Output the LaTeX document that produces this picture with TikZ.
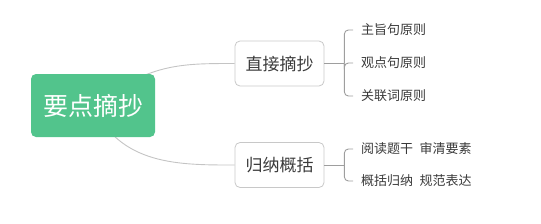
\documentclass[tikz,border=0pt]{standalone}
\usepackage{fontspec}
\setmainfont{Noto Sans CJK SC}
\usetikzlibrary{backgrounds}

\definecolor{rootgreen}{HTML}{52C48C}
\definecolor{linkgray}{HTML}{C4C4C4}
\definecolor{boxgray}{HTML}{C8C8C8}
\definecolor{bracketgray}{HTML}{9E9E9E}
\definecolor{textgray}{HTML}{3A3A3A}

\begin{document}
\begin{tikzpicture}[
    x=1pt, % one unit is one pixel of the layout
    y=-1pt, % y runs downwards, as in the layout
    root/.style={fill=rootgreen, rounded corners=5pt, minimum width=124pt,
        minimum height=63pt, text=white, font=\fontsize{25}{30}\selectfont},
    branch/.style={draw=boxgray, line width=0.8pt, rounded corners=5pt,
        minimum width=89pt, minimum height=45pt, text=textgray,
        font=\fontsize{17}{20}\selectfont},
    leaf/.style={anchor=west, inner sep=0pt, text=textgray,
        font=\fontsize{13}{16}\selectfont},
    link/.style={draw=linkgray, line width=0.9pt},
    bracket/.style={draw=bracketgray, line width=0.9pt, rounded corners=4pt}
    ]

\useasboundingbox (0,0) rectangle (541,223);

% --- Central topic ---
\node[root] (root) at (93,105.5) {要点摘抄};

% --- Branches ---
\node[branch] (B-1) at (279.5,63.5) {直接摘抄};
\node[branch] (B-2) at (279.5,165) {归纳概括};

% --- Leaves of the first branch ---
\foreach \txt/\y [count=\i] in {主旨句原则/30, 观点句原则/63, 关联词原则/96} {
    \node[leaf] (L1-\i) at (361,\y) {\txt};
}

% --- Leaves of the second branch ---
\foreach \txt/\y [count=\i] in {阅读题干\enspace 审清要素/149, 概括归纳\enspace 规范表达/181} {
    \node[leaf] (L2-\i) at (361,\y) {\txt};
}

% --- Curves from the central topic (behind it) ---
\begin{pgfonlayer}{background}
    \draw[link] (root.center) .. controls +(57,-42) and +(-55,0) .. (B-1.west);
    \draw[link] (root.center) .. controls +(27,60) and +(-55,0) .. (B-2.west);
\end{pgfonlayer}

% --- Brackets to the leaves ---
\draw[bracket] (B-1.east) -- ++(20,0) coordinate (J-1);
\draw[bracket] (B-2.east) -- ++(20,0) coordinate (J-2);
\foreach \i in {1,2,3} {
    \draw[bracket] (J-1) |- ([xshift=-8pt]L1-\i.west);
}
\foreach \i in {1,2} {
    \draw[bracket] (J-2) |- ([xshift=-8pt]L2-\i.west);
}

\end{tikzpicture}
\end{document}
